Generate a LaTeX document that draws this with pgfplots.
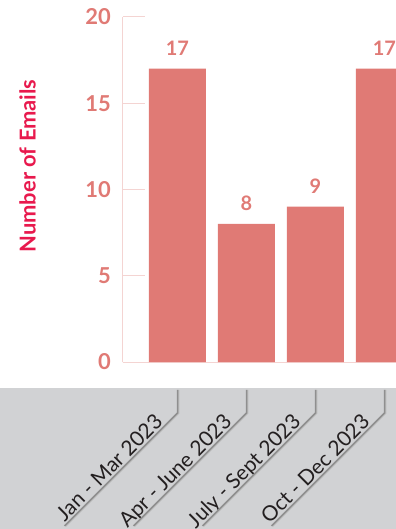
\documentclass[border=0pt]{standalone}
\usepackage{pgfplots}
\pgfplotsset{compat=1.18}
\usepackage{fontspec}
\setmainfont{Lato}
\definecolor{salmon}{HTML}{E07A75}
\definecolor{axpink}{HTML}{F4D4D2}
\definecolor{crimson}{HTML}{E8194D}
\definecolor{band}{HTML}{D1D2D4}
\definecolor{lbl}{HTML}{231F20}
\definecolor{lineg}{HTML}{8F8F8F}
\begin{document}
\begin{tikzpicture}
\useasboundingbox (0,0) rectangle (396bp,529bp);
\fill[band] (0,0) rectangle (396bp,141bp);
\begin{axis}[
  at={(122.5bp,167bp)}, anchor=south west,
  scale only axis, width=273.5bp, height=345bp,
  xmin=-0.797, xmax=3.167, ymin=0, ymax=20,
  axis x line*=bottom, axis y line*=left,
  axis line style={draw=axpink, line width=1bp},
  ytick={0,5,10,15,20},
  tick align=inside, major tick length=22bp,
  y tick style={draw=axpink, line width=1bp},
  x tick style={draw=none},
  xtick={0,1,2,3},
  xticklabels={Jan - Mar 2023, Apr - June 2023, July - Sept 2023, Oct - Dec 2023},
  /pgf/number format/assume math mode=true,
  yticklabel style={text=salmon, font=\fontsize{22}{22}\selectfont\bfseries, inner sep=0pt, anchor=east, xshift=-11.5bp},
  xticklabel style={xshift=-13.5bp, yshift=-39bp, rotate=45, anchor=base east, inner sep=0pt, text=lbl, font=\fontsize{21}{21}\selectfont},
  ybar, bar width=57bp, bar shift=0pt,
  nodes near coords,
  nodes near coords style={text=salmon, font=\fontsize{20}{20}\selectfont\bfseries, inner sep=0pt, anchor=south, yshift=13bp},
]
\addplot[fill=salmon, draw=none] coordinates {(0,17) (1,8) (2,9) (3,17)};
\end{axis}
\node[rotate=90, text=crimson, font=\fontsize{22}{22}\selectfont\bfseries] at (27.5bp,363bp) {Number of Emails};
\foreach \c in {177.5,246.5,315.5,384.5} {
  \draw[lineg!60, line width=1.5bp] (\c bp+1.2bp,139bp) -- (\c bp+1.2bp,116bp) -- (\c bp-111.8bp,3bp);
  \draw[lineg, line width=1.5bp] (\c bp,139bp) -- (\c bp,116bp) -- (\c bp-113bp,3bp);
}
\end{tikzpicture}
\end{document}
